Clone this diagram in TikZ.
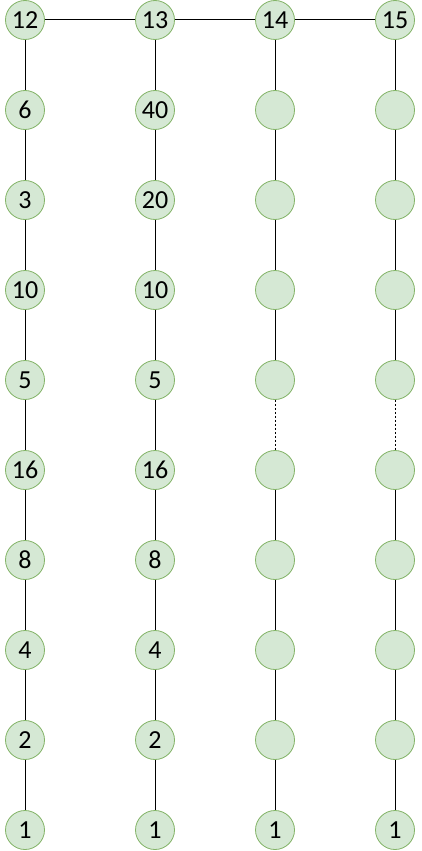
\documentclass[tikz,border=0pt]{standalone}
\usepackage{fontspec}
\setmainfont{Carlito}
\usetikzlibrary{positioning}
\definecolor{numfill}{HTML}{D5E8D4}
\definecolor{numline}{HTML}{82B366}

\begin{document}
\begin{tikzpicture}[x=1pt, y=-1pt,
  num/.style={circle, draw=numline, fill=numfill, line width=0.8pt,
    minimum size=39pt, inner sep=0pt, font=\fontsize{26}{28}\selectfont},
  link/.style={line width=1pt},
  gap/.style={line width=1pt, dashed, dash pattern=on 2pt off 2pt}
]
\useasboundingbox (0,0) rectangle (421,851);
% the four chains, top to bottom
\foreach \lab [count=\i] in {12,6,3,10,5,16,8,4,2,1}
  \node[num] (a\i) at (25,{20+90*(\i-1)}) {\lab};
\foreach \lab [count=\i] in {13,40,20,10,5,16,8,4,2,1}
  \node[num] (b\i) at (155,{20+90*(\i-1)}) {\lab};
\foreach \lab [count=\i] in {14,{},{},{},{},{},{},{},{},1}
  \node[num] (c\i) at (275,{20+90*(\i-1)}) {\lab};
\foreach \lab [count=\i] in {15,{},{},{},{},{},{},{},{},1}
  \node[num] (d\i) at (395,{20+90*(\i-1)}) {\lab};
% vertical links
\foreach \col in {a,b}
  \foreach \i in {1,...,9} {
    \pgfmathtruncatemacro\nxt{\i+1}
    \draw[link] (\col\i) -- (\col\nxt);
  }
\foreach \col in {c,d} {
  \foreach \i in {1,2,3,4,6,7,8,9} {
    \pgfmathtruncatemacro\nxt{\i+1}
    \draw[link] (\col\i) -- (\col\nxt);
  }
  \draw[gap] (\col5) -- (\col6);
}
% top row
\draw[link] (a1) -- (b1);
\draw[link] (b1) -- (c1);
\draw[link] (c1) -- (d1);
\end{tikzpicture}
\end{document}
